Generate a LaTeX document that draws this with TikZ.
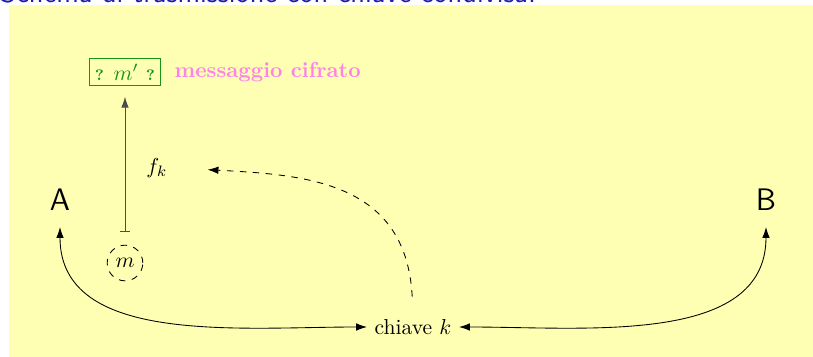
\documentclass[tikz,border=0pt]{standalone}
\usetikzlibrary{arrows.meta}
\definecolor{fondo}{RGB}{255,255,179}
\definecolor{titolo}{RGB}{30,30,170}
\definecolor{verde}{RGB}{20,150,20}
\definecolor{rosa}{RGB}{255,130,235}
\begin{document}
\begin{tikzpicture}[x=0.01627cm,y=-0.01627cm,>={Latex[length=5pt,width=3.5pt]}]
\useasboundingbox (0,0) rectangle (813,357);
\fill[fondo] (9,5) rectangle (813,357);
\node[anchor=base west,text=titolo,font=\sffamily\fontsize{13.5}{16}\selectfont,inner sep=0] (titolo) at (0,3) {Schema di trasmissione con chiave condivisa:};

\node[font=\sffamily\Large] (A) at (60,200) {A};
\node[font=\sffamily\Large] (B) at (766,200) {B};

\node[draw=verde,text=verde,inner sep=2.5pt] (cifr) at (125,72) {{\scriptsize\bfseries ?} $m'$ {\scriptsize\bfseries ?}};
\node[anchor=west,text=rosa,font=\bfseries] (nota) at (167,72) {messaggio cifrato};

\node[draw,dashed,circle,minimum size=16.5pt,inner sep=1pt] (m) at (125,263) {$m$};
\node (fk) at (157,168) {$f_k$};
\node (chiave) at (413,327) {chiave $k$};

\draw[|->,black!70,shorten <=6pt,shorten >=5pt] (m)--(cifr);
\draw[->,dashed,shorten <=7pt,shorten >=15pt] (chiave.north) to[out=93,in=-3,looseness=1.2] (fk.east);
\draw[<->,shorten <=4pt] (A) to[out=-90,in=180] (chiave);
\draw[<->,shorten <=4pt] (B) to[out=-90,in=0] (chiave);
\end{tikzpicture}
\end{document}
